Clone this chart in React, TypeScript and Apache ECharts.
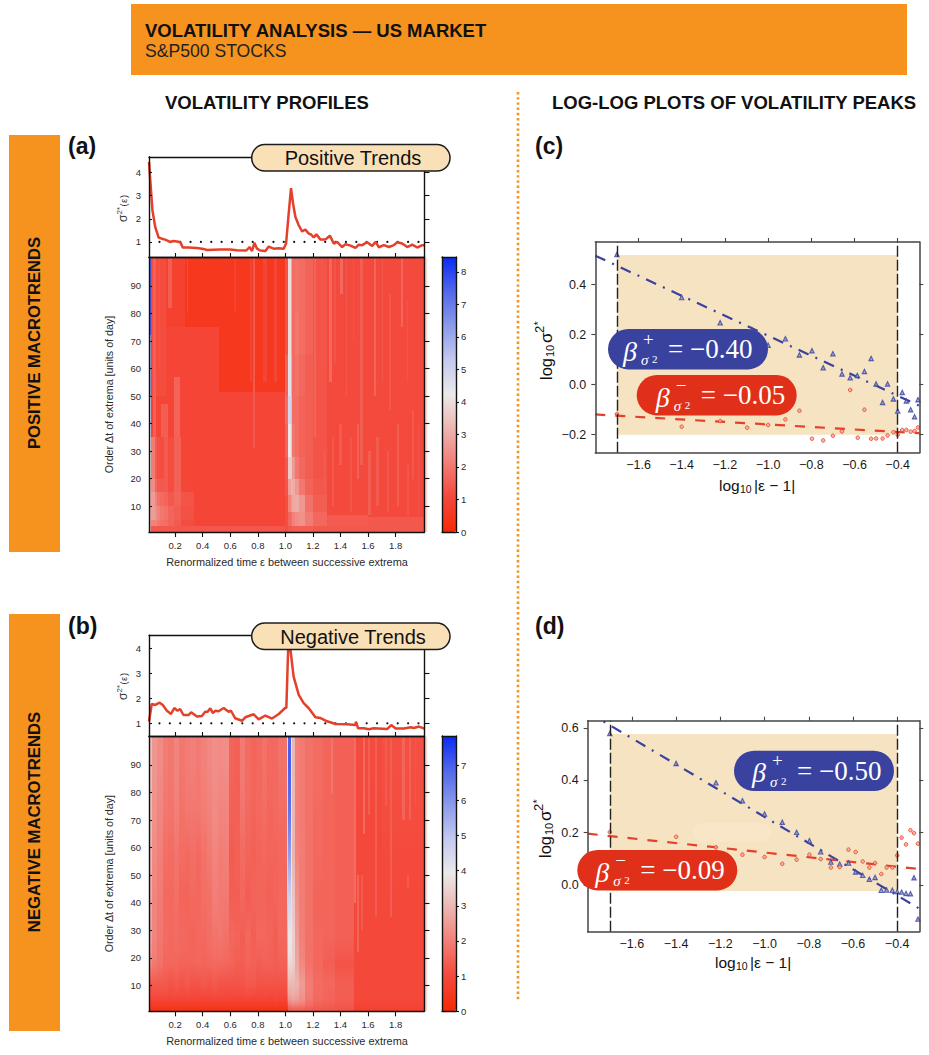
import React, { useEffect, useRef } from "react";
import * as echarts from "echarts";

const FONT = '"Liberation Sans", Arial, sans-serif';
const SERIF = '"Liberation Serif", "DejaVu Serif", serif';

const heatXTicks = [0.2, 0.4, 0.6, 0.8, 1.0, 1.2, 1.4, 1.6, 1.8];
const heatYTicks = [10, 20, 30, 40, 50, 60, 70, 80, 90];
const topYTicks = [1, 2, 3, 4];
const logXTicks = [-1.6, -1.4, -1.2, -1.0, -0.8, -0.6, -0.4];
const logYTicksC = [-0.2, 0, 0.2, 0.4];
const logYTicksD = [0, 0.2, 0.4, 0.6];
const cbTicksA = [0, 1, 2, 3, 4, 5, 6, 7, 8];
const cbTicksB = [0, 1, 2, 3, 4, 5, 6, 7];
const colorStops = ["#f62a05", "#f4473a", "#f27d75", "#ecb5b0", "#ebe9e9", "#c4caf0", "#8c9aea", "#5268ea", "#0a2af5"];

const curveA = [[0.01,4.45],[0.023,3.37],[0.035,2.37],[0.055,1.65],[0.08,1.19],[0.103,1.14],[0.127,1.1],[0.164,1.0],[0.188,1.04],[0.224,1.01],[0.24,0.96],[0.255,0.76],[0.297,0.76],[0.358,0.74],[0.406,0.7],[0.43,0.65],[0.527,0.67],[0.6,0.67],[0.648,0.64],[0.716,0.63],[0.74,0.78],[0.758,0.61],[0.775,0.96],[0.794,0.71],[0.818,0.63],[0.855,0.61],[0.879,0.8],[0.915,0.71],[0.952,0.73],[0.988,0.71],[1.005,0.93],[1.024,2.22],[1.041,3.32],[1.056,2.65],[1.073,2.08],[1.097,1.72],[1.121,1.46],[1.145,1.53],[1.17,1.36],[1.187,1.32],[1.206,1.19],[1.225,1.33],[1.255,1.1],[1.29,1.1],[1.323,1.27],[1.352,0.93],[1.376,1.0],[1.412,0.78],[1.436,0.9],[1.473,0.84],[1.509,0.74],[1.533,0.88],[1.558,0.86],[1.594,0.99],[1.63,0.83],[1.655,1.0],[1.679,0.77],[1.715,0.86],[1.752,0.78],[1.788,0.86],[1.812,0.99],[1.848,0.93],[1.885,0.78],[1.921,0.88],[1.958,0.76],[1.994,0.86],[2.01,0.86]];
const curveB = [[0.01,1.07],[0.03,1.77],[0.055,1.73],[0.087,1.82],[0.11,1.73],[0.14,1.5],[0.17,1.37],[0.193,1.61],[0.217,1.5],[0.236,1.57],[0.26,1.33],[0.297,1.33],[0.316,1.44],[0.358,1.27],[0.394,1.29],[0.418,1.46],[0.436,1.46],[0.455,1.6],[0.474,1.4],[0.49,1.5],[0.515,1.48],[0.552,1.61],[0.588,1.46],[0.605,1.5],[0.636,1.2],[0.685,1.1],[0.709,1.24],[0.77,1.36],[0.806,1.16],[0.855,1.31],[0.903,1.19],[0.952,1.37],[1.0,1.62],[1.007,1.6],[1.02,3.92],[1.028,4.15],[1.037,3.92],[1.06,2.86],[1.097,2.13],[1.133,1.8],[1.17,1.6],[1.218,1.24],[1.255,1.21],[1.303,1.08],[1.364,0.97],[1.448,0.96],[1.509,0.93],[1.512,1.07],[1.528,0.8],[1.57,0.8],[1.606,0.76],[1.642,0.8],[1.739,0.77],[1.768,0.93],[1.8,0.79],[1.86,0.79],[1.909,0.84],[1.933,0.81],[1.97,0.87],[2.01,0.79]];
const dottedRefA = [[0.086,1],[2.01,1]];
const dottedRefB = [[0.086,1],[2.01,1]];

// Heat cells: [xStart, xEnd, yStart, yEnd, value], later cells paint over earlier ones
const heatABlocks = [
  [0.01,1.02,0.5,100.5,1.0],[0.27,0.515,75,100.5,0.5],[0.515,1.0,51.5,100.5,0.5],
  [0.13,0.27,75,100.5,0.85],[0.03,0.13,50,100.5,1.15],
  [0.15,0.175,82,100.5,1.5],[0.285,0.295,80,100.5,1.1],[0.04,0.06,30,100.5,1.55],[0.08,0.09,60,100.5,1.3],
  [0.19,0.235,20,57,1.6],[0.1,0.15,20,47,1.5],
  [0.63,0.64,80,100.5,0.85],[0.74,0.755,55,100.5,0.95],[0.765,0.778,31,100.5,1.4],[0.84,0.87,55,100.5,0.95],[0.92,0.94,55,100.5,1.0],
  [0.01,1.02,0.5,3,1.35],
  [1.3,2.01,0.5,100.5,1.12],[1.3,2.01,0.5,3,1.4],[1.3,1.6,3,7,1.45],[1.6,2.01,3,6,1.4],
];
const heatALeftColumn = [[0.01,0.025,72,100.5,7.6],[0.01,0.025,50,72,6.0],[0.01,0.025,35,50,5.0],[0.01,0.025,20,35,4.0],[0.01,0.025,0.5,20,3.0]];
const heatALowRows = [[20,35],[15,20],[10,15],[5,10],[3,5]];
const heatALowEdges = [0.025,0.05,0.07,0.09,0.12,0.15,0.19,0.24,0.27,0.34];
const heatALowValues = [
  [2.1,1.45,1.25,1.15,1.45,1.15,1.55,1.0,1.0],
  [2.4,1.7,1.45,1.4,1.45,1.15,1.55,1.05,1.05],
  [2.7,2.2,1.9,1.75,1.65,1.4,1.6,1.3,1.3],
  [2.7,2.5,2.2,2.0,1.9,1.65,1.5,1.25,1.25],
  [2.2,2.2,2.0,1.9,1.8,1.6,1.45,1.15,1.15],
];
const heatARows = [[80,100.5],[65,80],[50,65],[40,50],[28,40],[20,28],[14,20],[8,14],[3,8],[0.5,3]];
const heatAPeakEdges = [1.0,1.02,1.04,1.05,1.07,1.1,1.14,1.2,1.3];
const heatAPeakValues = [
  [1.3,4.0,2.9,1.8,1.9,1.8,1.6,1.3],[1.3,4.0,2.9,1.8,2.0,1.8,1.6,1.3],[1.6,4.5,3.1,1.8,1.9,1.7,1.5,1.3],
  [1.8,4.9,3.3,1.8,1.8,1.6,1.5,1.3],[1.6,4.2,3.5,2.0,1.8,1.6,1.5,1.3],[1.4,3.6,3.6,2.6,2.0,1.7,1.5,1.3],
  [1.3,2.8,3.3,3.0,2.6,2.0,1.6,1.4],[1.2,2.2,2.6,2.9,3.0,2.6,1.9,1.5],[1.2,1.7,1.9,2.2,2.4,2.5,2.1,1.7],[1.2,1.4,1.4,1.5,1.5,1.5,1.5,1.4],
];
const heatAStreaks = [
  [1.205,1.222,35,100.5,1.6],[1.26,1.272,60,100.5,1.35],[1.315,1.335,55,100.5,1.7],[1.355,1.365,62,100.5,1.3],[1.4,1.418,87,100.5,1.7],[1.44,1.45,50,100.5,1.35],
  [1.49,1.5,70,100.5,1.3],[1.545,1.565,25,100.5,1.5],[1.642,1.658,50,100.5,1.6],[1.7,1.712,55,100.5,1.35],[1.75,1.765,45,87,1.4],[1.836,1.855,75,100.5,1.65],
  [1.88,1.892,55,85,1.3],[1.92,1.935,20,45,1.4],[1.81,1.825,10,40,1.5],[1.52,1.535,20,40,1.55],[1.39,1.412,25,40,1.45],[1.28,1.29,15,30,1.5],[1.34,1.355,10,35,1.4],
  [1.47,1.485,8,35,1.35],[1.6,1.62,7,30,1.5],[1.66,1.68,10,35,1.45],[1.74,1.755,8,30,1.4],[1.88,1.895,7,25,1.35],[1.96,1.972,7,40,1.3],
];

const heatBRows = [[80,100.5],[65,80],[50,65],[35,50],[22,35],[14,22],[7,14],[3,7],[0.5,3]];
const heatBLeftEdges = [0.01,0.03,0.07,0.11,0.15,0.19,0.23,0.27,0.31,0.35,0.39,0.43,0.47,0.51,0.55,0.59,0.63,0.67,0.71,0.75,0.79,0.83,0.87,0.91,0.95,1.01];
const heatBLeftValues = [
  [3.1,2.4,2.2,1.95,1.85,2.1,1.85,1.95,2.0,1.9,2.05,2.15,2.25,2.2,2.25,1.5,1.45,1.9,1.65,1.5,1.6,1.75,1.6,1.6,1.75],
  [3.1,2.3,2.1,1.85,1.8,2.0,1.75,1.85,1.85,1.85,1.95,2.05,2.2,2.1,2.1,1.45,1.45,1.8,1.6,1.5,1.6,1.65,1.5,1.6,1.65],
  [3.0,2.2,2.0,1.7,1.65,1.8,1.65,1.6,1.7,1.6,1.75,1.9,2.1,1.95,2.0,1.35,1.45,1.65,1.5,1.45,1.5,1.55,1.5,1.5,1.55],
  [2.8,2.1,1.9,1.6,1.6,1.7,1.5,1.5,1.6,1.55,1.7,1.75,2.0,1.9,1.9,1.4,1.4,1.55,1.4,1.5,1.5,1.5,1.45,1.5,1.55],
  [2.6,2.1,1.85,1.65,1.6,1.65,1.6,1.55,1.5,1.6,1.6,1.7,1.8,1.85,1.75,1.55,1.5,1.4,1.55,1.4,1.55,1.55,1.5,1.4,1.55],
  [2.2,1.9,1.75,1.55,1.55,1.55,1.5,1.5,1.5,1.55,1.5,1.55,1.6,1.6,1.55,1.5,1.4,1.4,1.5,1.45,1.4,1.45,1.45,1.4,1.45],
  [1.3,1.3,1.3,1.3,1.2,1.3,1.2,1.3,1.2,1.2,1.3,1.2,1.3,1.2,1.2,1.2,1.2,1.2,1.3,1.3,1.2,1.2,1.2,1.2,1.2],
  [0.9,0.9,0.9,0.95,0.9,0.9,0.95,0.9,0.9,0.9,0.85,0.9,0.9,0.95,0.9,0.9,0.85,0.9,0.9,0.85,0.9,0.9,0.85,0.9,0.85],
  [0.35,0.35,0.35,0.35,0.35,0.35,0.35,0.35,0.35,0.35,0.35,0.35,0.35,0.35,0.35,0.35,0.35,0.35,0.35,0.35,0.35,0.35,0.35,0.35,0.35],
];
const heatBRightEdges = [1.01,1.02,1.04,1.05,1.07,1.1,1.14,1.2,1.27,1.36,1.5,1.7,2.01];
const heatBRightValues = [
  [3.8,7.0,3.8,3.0,2.0,1.9,1.75,1.65,1.5,1.45,1.05,1.12],[3.6,6.6,3.8,3.0,2.0,1.9,1.75,1.6,1.5,1.45,1.0,1.08],
  [3.6,5.8,4.0,2.9,2.1,1.95,1.75,1.6,1.5,1.45,1.0,1.03],[3.4,4.7,4.1,3.2,2.3,1.95,1.75,1.5,1.5,1.45,1.0,1.0],
  [2.9,4.0,4.0,3.4,2.5,2.0,1.75,1.55,1.5,1.45,1.0,1.0],[2.5,3.6,3.6,3.4,2.7,2.15,1.75,1.55,1.4,1.2,1.0,1.0],
  [2.1,3.0,3.0,3.0,2.9,2.5,1.95,1.65,1.55,1.4,1.0,1.0],[1.5,2.4,2.5,2.6,2.5,2.3,1.85,1.6,1.5,1.4,1.0,1.0],
  [0.5,1.4,1.5,1.5,1.5,1.5,1.4,1.3,1.3,1.2,0.8,0.8],
];
const heatBStreaks = [
  [1.33,1.345,80,100.5,1.8],[1.495,1.515,40,100.5,1.65],[1.52,1.535,22,50,1.5],[1.56,1.575,65,100.5,1.6],[1.6,1.615,72,100.5,1.4],[1.65,1.665,35,100.5,1.4],
  [1.72,1.735,75,100.5,1.35],[1.76,1.775,35,100.5,1.4],[1.85,1.865,70,100.5,1.5],[1.9,1.915,70,100.5,1.45],[1.94,1.95,75,100.5,1.25],[1.88,1.895,45,50,1.3],[1.55,1.562,30,50,1.3],
];

const triCx = [-1.7,-1.4,-1.222,-1.075,-1.0,-0.92,-0.855,-0.797,-0.745,-0.7,-0.658,-0.62,-0.587,-0.554,-0.523,-0.5,-0.47,-0.447,-0.42,-0.4,-0.379,-0.36,-0.34,-0.322,-0.306];
const triCy = [0.521,0.349,0.248,0.22,0.158,0.184,0.119,0.136,0.068,0.124,0.043,0.028,0.037,0.053,0.105,0.003,-0.071,0.003,-0.057,-0.105,-0.031,-0.065,-0.1,-0.128,-0.06];
const dotCx = [-1.7,-1.4,-1.222,-1.097,-1.0,-0.92,-0.855,-0.797,-0.745,-0.7,-0.658,-0.62,-0.585,-0.554,-0.523,-0.5,-0.47,-0.447,-0.42,-0.4,-0.379,-0.36,-0.34,-0.322,-0.306];
const dotCy = [-0.117,-0.168,-0.145,-0.172,-0.161,-0.139,-0.104,-0.216,-0.223,-0.204,-0.187,-0.021,-0.212,-0.1,-0.216,-0.215,-0.215,-0.203,-0.19,-0.2,-0.181,-0.181,-0.188,-0.185,-0.171];
const triDx = [-1.7,-1.4,-1.22,-1.1,-1.0,-0.92,-0.855,-0.797,-0.746,-0.7,-0.66,-0.62,-0.588,-0.556,-0.526,-0.5,-0.472,-0.448,-0.422,-0.4,-0.38,-0.36,-0.34,-0.324,-0.306];
const triDy = [0.578,0.464,0.39,0.322,0.271,0.24,0.201,0.169,0.127,0.088,0.08,0.084,0.05,0.037,0.022,0.029,-0.02,-0.019,-0.02,-0.025,-0.027,-0.032,-0.033,0.028,-0.13];
const dotDy = [0.202,0.184,0.144,0.116,0.107,0.081,0.097,0.116,0.099,0.067,0.069,0.135,0.126,0.09,0.067,0.084,0.042,0.067,0.067,0.113,0.181,0.155,0.209,0.198,0.158];
const fitBlueC = [[-1.8,0.516],[-0.3,-0.084]];
const fitRedC = [[-1.8,-0.119],[-0.3,-0.194]];
const fitBlueD = [[-1.8,0.66],[-0.3,-0.09]];
const fitRedD = [[-1.8,0.196],[-0.3,0.061]];
const shadeC = [-1.7,-0.4,-0.2,0.519];
const shadeD = [-1.7,-0.4,-0.023,0.576];

const zipPts = (xs: number[], ys: number[]) => xs.map((x, i) => [x, ys[i]]);

// Table cells also carry the values of the row above and below, so each cell can blend into them vertically
function tableCells(rows: number[][], edges: number[], vals: number[][]) {
  const out: number[][] = [];
  rows.forEach((r, ri) => {
    for (let c = 0; c < edges.length - 1; c++) {
      const v = vals[ri][c];
      const above = ri > 0 ? vals[ri - 1][c] : v;
      const below = ri < rows.length - 1 ? vals[ri + 1][c] : v;
      out.push([edges[c], edges[c + 1], r[0], r[1], v, above, below]);
    }
  });
  return out;
}

const makeRenderCell = (maxV: number) => (_: any, api: any) => {
  const a = api.coord([api.value(0), api.value(3)]);
  const b = api.coord([api.value(1), api.value(2)]);
  const x0 = Math.round(a[0]), x1 = Math.round(b[0]), y0 = Math.round(a[1]), y1 = Math.round(b[1]);
  const v = api.value(4), up = api.value(5), dn = api.value(6);
  const at = (n: number) => echarts.color.lerp(Math.min(1, n / maxV), colorStops);
  let fill: any = api.visual("color");
  if (Number.isFinite(up) && Number.isFinite(dn) && (up !== v || dn !== v)) {
    fill = new echarts.graphic.LinearGradient(0, 0, 0, 1, [
      { offset: 0, color: at((v + up) / 2) },
      { offset: 0.5, color: at(v) },
      { offset: 1, color: at((v + dn) / 2) },
    ]);
  }
  return { type: "rect", shape: { x: x0, y: y0, width: Math.max(1, x1 - x0), height: Math.max(1, y1 - y0) }, style: { fill } };
};

function App() {
  const ref = useRef<HTMLDivElement>(null);
  useEffect(() => {
    const chart = echarts.init(ref.current!, undefined, { renderer: "svg" });
    const grid: any[] = [], xAxis: any[] = [], yAxis: any[] = [], series: any[] = [], G: any[] = [];
    const fmt1 = (v: number) => v.toFixed(1).replace("-", "\u2212");

    function frame(b: any, o: any) {
      const gi = grid.length;
      grid.push({ left: b.l, top: b.t, width: b.r - b.l, height: b.b - b.t, containLabel: false });
      const lineC = o.line || "#111", lw = o.lw || 1.4;
      const mk = (pos: string, ticks: any, labels: any, min: number, max: number, tickLen: number, inside: boolean, labelSize: number, margin: number, f: any) => ({
        type: "value", gridIndex: gi, position: pos, min, max, z: 10, scale: true,
        splitLine: { show: false },
        axisLine: { show: true, onZero: false, lineStyle: { color: lineC, width: lw } },
        axisTick: ticks ? { show: true, customValues: ticks, length: tickLen, inside, lineStyle: { color: lineC, width: 1.1 } } : { show: false },
        axisLabel: labels ? { show: true, customValues: labels, fontFamily: FONT, fontSize: labelSize, color: o.text || "#2a2a2a", margin, formatter: f, hideOverlap: false, showMinLabel: true, showMaxLabel: true } : { show: false },
      });
      const xi = xAxis.length, yi = yAxis.length;
      xAxis.push(mk("bottom", o.xb, o.xl, b.x0, b.x1, o.xbLen ?? 5, !!o.xbIn, o.xs || 9.5, o.xm ?? 8, fmt1));
      xAxis.push(mk("top", o.xt, null, b.x0, b.x1, 4, false, 9, 8, fmt1));
      yAxis.push(mk("left", o.yl, o.ylab, b.y0, b.y1, o.ylLen ?? 3, !o.ylOut, o.ys || 9.5, o.ym ?? 8, o.yf || ((v: number) => String(v))));
      yAxis.push(mk("right", o.yr, o.yrlab, b.y0, b.y1, o.yrLen ?? 5, false, o.ys || 9.5, o.yrm ?? 6, o.yf || ((v: number) => String(v))));
      return { xi, yi };
    }

    function text(x: number, y: number, t: string, font: string, fill = "#111", align = "left", rotation = 0, z = 100) {
      G.push({ type: "text", x, y, rotation, z, silent: true, style: { text: t, font, fill, align, textAlign: align, verticalAlign: "middle", textVerticalAlign: "middle" } });
    }
    function run(x: number, y: number, rotation: number, pieces: any[], z = 100) {
      G.push({ type: "group", x, y, rotation, z, silent: true, children: pieces.map((p) => ({ type: "text", x: p[1], y: p[2], z, silent: true, style: { text: p[0], font: p[3], fill: p[4] || "#111", align: "left", textAlign: "left", verticalAlign: "middle", textVerticalAlign: "middle" } })) });
    }
    function rect(x: number, y: number, w: number, h: number, fill: string, r = 0, z = 90) {
      G.push({ type: "rect", z, silent: true, shape: { x, y, width: w, height: h, r }, style: { fill } });
    }

    // page furniture
    rect(131, 4, 776, 71, "#f6921e", 0, 0);
    rect(9, 135, 51, 417, "#f6921e", 0, 0);
    rect(9, 614, 51, 417, "#f6921e", 0, 0);
    G.push({ type: "line", z: 0, silent: true, shape: { x1: 518, y1: 92, x2: 518, y2: 1000 }, style: { stroke: "#f6921e", lineWidth: 2.6, lineDash: [2.4, 2.8] } });
    text(145, 30, "VOLATILITY ANALYSIS \u2014 US MARKET", `bold 18.5px ${FONT}`);
    text(145, 51, "S&P500 STOCKS", `17.6px ${FONT}`, "#222");
    text(165, 102, "VOLATILITY PROFILES", `bold 18.5px ${FONT}`);
    text(552, 102, "LOG-LOG PLOTS OF VOLATILITY PEAKS", `bold 18.5px ${FONT}`);
    text(34, 343, "POSITIVE MACROTRENDS", `bold 16.6px ${FONT}`, "#111", "center", Math.PI / 2);
    text(34, 822, "NEGATIVE MACROTRENDS", `bold 16.7px ${FONT}`, "#111", "center", Math.PI / 2);
    text(68, 146, "(a)", `bold 23px ${FONT}`);
    text(68, 626, "(b)", `bold 23px ${FONT}`);
    text(535, 146, "(c)", `bold 23px ${FONT}`);
    text(535, 626, "(d)", `bold 23px ${FONT}`);

    function profile(top: number, split: number, bottom: number, y0: number, y1: number, curve: number[][], dotted: number[][], cells: number[][], cbMax: number, cbTicks: number[], title: string, vmIndexSeries: any[], yLabelBase: number) {
      const t = frame({ l: 149, r: 424.5, t: top, b: split, x0: 0.01, x1: 2.01, y0, y1 }, { yl: topYTicks, ylab: topYTicks, yr: topYTicks });
      series.push({ type: "line", xAxisIndex: t.xi, yAxisIndex: t.yi, data: curve, showSymbol: false, z: 3, lineStyle: { color: "#e4402a", width: 2.5 }, silent: true });
      series.push({ type: "line", xAxisIndex: t.xi, yAxisIndex: t.yi, data: dotted, showSymbol: false, z: 2, lineStyle: { color: "#111", width: 2.2, type: [0.01, 10.35], cap: "round" }, silent: true });
      const h = frame({ l: 149, r: 424.5, t: split, b: bottom, x0: 0.01, x1: 2.01, y0: 0.65, y1: 100.5 }, { xb: heatXTicks, xl: heatXTicks, xt: heatXTicks, yl: heatYTicks, ylab: heatYTicks, yr: heatYTicks });
      const si = series.length;
      series.push({ type: "custom", xAxisIndex: h.xi, yAxisIndex: h.yi, data: cells, renderItem: makeRenderCell(cbMax), encode: { x: [0, 1], y: [2, 3] }, z: 2, clip: true, silent: true, progressive: 0 });
      frame({ l: 442, r: 456, t: split, b: bottom, x0: 0, x1: 1, y0: 0, y1: cbMax }, { yr: cbTicks, yrlab: cbTicks, yrLen: 3, yrm: 5, ys: 9.5 });
      vmIndexSeries.push({
        type: "continuous", seriesIndex: si, dimension: 4, min: 0, max: cbMax, calculable: false, realtime: false, show: true,
        left: 442, top: split, itemWidth: 14, itemHeight: bottom - split, padding: 0, text: ["", ""], showLabel: false, hoverLink: false,
        inRange: { color: colorStops }, outOfRange: { color: colorStops[8] },
      });
      rect(424.8, split + 1, 2.4, bottom - split - 1, "#fcd6cf", 0, 1);
      G.push({ type: "rect", z: 95, silent: true, shape: { x: 251.7, y: top - 12.2, width: 198.3, height: 26.4, r: 13 }, style: { fill: "#fae0b6", stroke: "#1c1c1c", lineWidth: 1.5 } });
      text(353, top + 1.2, title, `20px ${FONT}`, "#111", "center");
      run(123, yLabelBase, Math.PI / 2, [["\u03c3", 0, 0, `12px ${FONT}`, "#333"], ["2", 7.5, -3.5, `8px ${FONT}`, "#333"], ["*", 12, -4, `7.5px ${FONT}`, "#333"], ["(", 15.5, 0, `9.5px ${FONT}`, "#333"], ["\u03b5", 19, 0, `9.5px ${FONT}`, "#333"], [")", 24, 0, `9.5px ${FONT}`, "#333"]]);
      text(109, (split + bottom) / 2, "Order \u0394t of extrema [units of day]", `10.7px ${FONT}`, "#2a2a2a", "center", Math.PI / 2);
      text(287, bottom + 30, "Renormalized time \u03b5 between successive extrema", `10.9px ${FONT}`, "#2a2a2a", "center");
    }

    const vms: any[] = [];
    const cellsA = [...heatABlocks, ...heatALeftColumn, ...tableCells(heatALowRows, heatALowEdges, heatALowValues), ...tableCells(heatARows, heatAPeakEdges, heatAPeakValues), ...heatAStreaks];
    const cellsB = [...tableCells(heatBRows, heatBLeftEdges, heatBLeftValues), ...tableCells(heatBRows, heatBRightEdges, heatBRightValues), ...heatBStreaks];
    profile(156.8, 257, 532, 0.35, 4.675, curveA, dottedRefA, cellsA, 8.46, cbTicksA, "Positive Trends", vms, 222);
    profile(635.3, 736, 1011.3, 0.494, 4.506, curveB, dottedRefB, cellsB, 7.83, cbTicksB, "Negative Trends", vms, 700);

    function logPanel(b: any, yTicks: number[], tx: number[], ty: number[], dx: number[], dy: number[], fitB: number[][], fitR: number[][], shade: number[]) {
      const p = frame(b, { line: "#444", lw: 1.5, xt: logXTicks, xb: null, xl: logXTicks, xs: 12.5, xm: 6, yl: yTicks, ylab: yTicks, ylOut: true, ylLen: 4, yr: yTicks, yrLen: 4, ys: 12.5, ym: 9, yf: fmt1, text: "#1a1a1a" });
      const ax = { xAxisIndex: p.xi, yAxisIndex: p.yi, silent: true };
      series.push({
        ...ax, type: "line", z: 1, data: [[shade[0], shade[2]]], showSymbol: false, lineStyle: { opacity: 0 },
        markArea: { silent: true, z: 1, itemStyle: { color: "#f5e3c1" }, data: [[{ coord: [shade[0], shade[2]] }, { coord: [shade[1], shade[3]] }]] },
        markLine: { silent: true, symbol: "none", label: { show: false }, lineStyle: { color: "#222", width: 1.4, type: [11, 3] }, data: [{ xAxis: shade[0] }, { xAxis: shade[1] }] },
      });
      series.push({ ...ax, type: "line", z: 3, data: fitB, showSymbol: false, lineStyle: { color: "#3a42a0", width: 2.2, type: [11, 7.5, 2, 7.5] } });
      series.push({ ...ax, type: "line", z: 3, data: fitR, showSymbol: false, lineStyle: { color: "#e4402a", width: 2.2, type: [10, 10] } });
      series.push({ ...ax, type: "scatter", z: 4, data: zipPts(tx, ty), symbol: "triangle", symbolSize: 4.4, itemStyle: { color: "#8f93c6", borderColor: "#3a42a0", borderWidth: 1.1 } });
      series.push({ ...ax, type: "scatter", z: 4, data: zipPts(dx, dy), symbol: "circle", symbolSize: 3.6, itemStyle: { color: "#f5a58c", borderColor: "#e4402a", borderWidth: 1 } });
    }
    logPanel({ l: 595.3, r: 919.3, t: 242, b: 452.7, x0: -1.8, x1: -0.3, y0: -0.272, y1: 0.571 }, logYTicksC, triCx, triCy, dotCx, dotCy, fitBlueC, fitRedC, shadeC);
    logPanel({ l: 587.7, r: 919.3, t: 720.7, b: 931.7, x0: -1.8, x1: -0.3, y0: -0.178, y1: 0.627 }, logYTicksD, triDx, triDy, triDx, dotDy, fitBlueD, fitRedD, shadeD);

    const mathTitle = (x: number, y: number) => run(x, y, 0, [["log", 0, 0, `15.5px ${FONT}`], ["10", 21, 4, `10.5px ${FONT}`], ["|\u03b5 \u2212 1|", 35, 0, `15.5px ${FONT}`]]);
    mathTitle(719, 485);
    mathTitle(715, 962);
    const sigTitle = (x: number, y: number) => run(x, y, Math.PI / 2, [["log", 0, 0, `16.5px ${FONT}`], ["10", 23, 4, `11px ${FONT}`], ["\u03c3", 37, 0, `17px ${FONT}`], ["2", 47, -7, `13px ${FONT}`], ["*", 54.5, -8, `11px ${FONT}`]]);
    sigTitle(546, 380);
    sigTitle(545, 858);

    function eqPill(l: number, t: number, fill: string, sign: string, val: string, d: number) {
      G.push({ type: "rect", z: 92, silent: true, shape: { x: l, y: t, width: 160, height: 40.4, r: 20.2 }, style: { fill } });
      const m = t + 20;
      run(l, m, 0, [
        ["\u03b2", d, 2, `italic 28px ${SERIF}`, "#fff"],
        [sign, d + 20, -10, `19px ${SERIF}`, "#fff"],
        ["\u03c3", d + 18, 11, `italic 15px ${SERIF}`, "#fff"],
        ["2", d + 29, 10, `11px ${SERIF}`, "#fff"],
        ["= \u2212" + val, d + 45, 0, `27px ${SERIF}`, "#fff"],
      ]);
    }
    rect(693, 823, 78, 19, "#f9e6c9", 9.5, 3);
    eqPill(608, 329, "#3a42a0", "+", "0.40", 15);
    eqPill(636.7, 375, "#e0301a", "\u2212", "0.05", 19);
    eqPill(734, 750.7, "#3a42a0", "+", "0.50", 18);
    eqPill(577.3, 850, "#e0301a", "\u2212", "0.09", 18);

    chart.setOption({ animation: false, backgroundColor: "#fff", tooltip: { show: false }, grid, xAxis, yAxis, series, visualMap: vms, graphic: { elements: G } });
    return () => chart.dispose();
  }, []);
  return <div ref={ref} style={{ position: "absolute", left: 0, top: 0, width: 929, height: 1055 }} />;
}

export default App;
